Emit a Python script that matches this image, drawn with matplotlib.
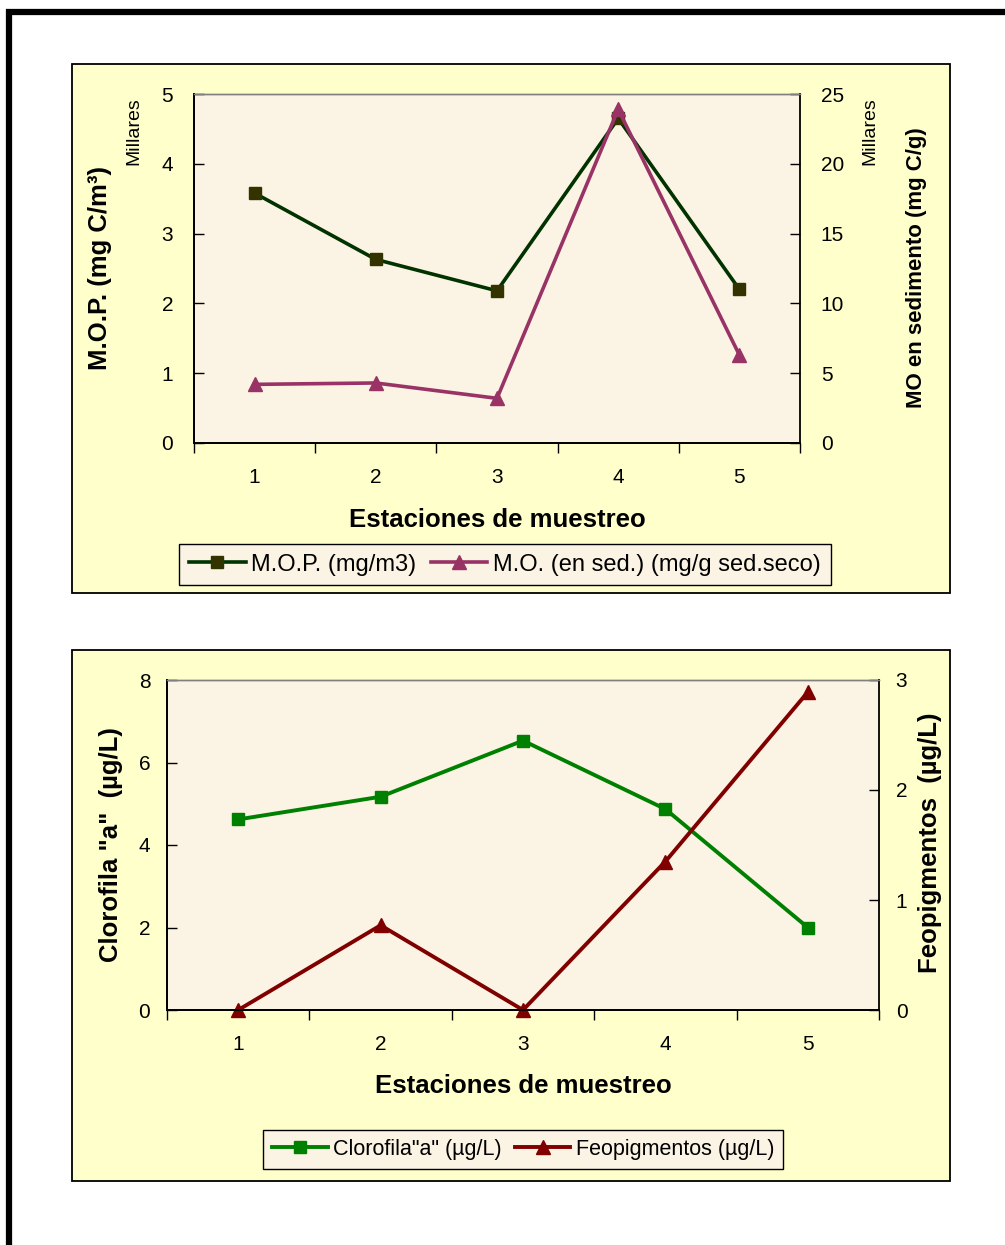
import matplotlib
matplotlib.use("Agg")
from matplotlib import pyplot as plt
from matplotlib.patches import Rectangle
from matplotlib.lines import Line2D

plt.rcParams["font.family"] = ["Liberation Sans", "DejaVu Sans"]

W, H = 1005, 1245  # output size in pixels (dpi 100)

# data
estaciones = [1, 2, 3, 4, 5]
mop = [3.58, 2.63, 2.18, 4.65, 2.20]          # M.O.P., millares mg C/m3
mo_sed = [4.2, 4.3, 3.2, 23.9, 6.3]           # M.O. en sedimento, millares mg C/g
clorofila = [4.62, 5.17, 6.53, 4.87, 2.00]    # µg/L
feopigmentos = [0.0, 0.77, 0.0, 1.35, 2.89]   # µg/L

BOX_BG = "#FFFFCC"
PLOT_BG = "#FBF3E3"
TICK_FS = 15
TITLE_FS = 18.5


def frac_rect(x0, y0, x1, y1):
    """pixel box (top-left origin) -> figure fraction [left, bottom, width, height]"""
    return [x0 / W, 1 - y1 / H, (x1 - x0) / W, (y1 - y0) / H]


def fx(x):
    return x / W


def fy(y):
    return 1 - y / H


def add_box(fig, x0, y0, x1, y1):
    l, b, w, h = frac_rect(x0, y0, x1, y1)
    fig.add_artist(Rectangle((l, b), w, h, transform=fig.transFigure, facecolor=BOX_BG,
                             edgecolor="black", linewidth=1.3, zorder=-1))


def style_axes(ax, ax2, ylim, yticks, ylim2, yticks2, ypad):
    ax.set_facecolor(PLOT_BG)
    ax2.patch.set_visible(False)
    ax.set_xlim(0.5, 5.5)
    ax.set_xticks([e - 0.5 for e in estaciones] + [estaciones[-1] + 0.5])
    ax.set_xticklabels([])
    ax.set_xticks(estaciones, minor=True)
    ax.set_xticklabels([str(e) for e in estaciones], minor=True, fontsize=TICK_FS)
    ax.tick_params(axis="x", which="major", direction="out", length=7, width=1)
    ax.tick_params(axis="x", which="minor", length=0, pad=18)

    ax.set_ylim(*ylim)
    ax.set_yticks(yticks)
    ax.tick_params(axis="y", direction="in", length=7, width=1, pad=ypad, labelsize=TICK_FS)
    ax2.set_ylim(*ylim2)
    ax2.set_yticks(yticks2)
    ax2.tick_params(axis="y", direction="in", length=7, width=1, pad=ypad, labelsize=TICK_FS)

    for a in (ax, ax2):
        a.spines["top"].set_color("#808080")
        a.spines["top"].set_linewidth(1.0)
        a.spines["left"].set_linewidth(1.3)
        a.spines["bottom"].set_linewidth(1.3)
        a.spines["right"].set_linewidth(1.3)
    ax.spines["right"].set_visible(False)


def add_legend(fig, handles, labels, cx, cy, fs, hl):
    leg = fig.legend(handles, labels, loc="center", bbox_to_anchor=(fx(cx), fy(cy)), ncol=2,
                     fancybox=False, edgecolor="black", facecolor=PLOT_BG, framealpha=1,
                     fontsize=fs, handlelength=hl, handletextpad=0.25, columnspacing=0.6,
                     borderpad=0.4)
    leg.get_frame().set_linewidth(1.0)
    return leg


fig = plt.figure(figsize=(W / 100, H / 100), dpi=100)

# page border (thick black lines left and top)
fig.add_artist(Line2D([fx(9), fx(9), 1.0], [0.0, fy(12), fy(12)], transform=fig.transFigure,
                      color="black", linewidth=4.5, solid_joinstyle="miter"))

# ---------- top chart ----------
add_box(fig, 72, 64, 950, 593)
ax = fig.add_axes(frac_rect(194, 94, 800, 443))
ax2 = ax.twinx()
style_axes(ax, ax2, (0, 5), range(0, 6), (0, 25), range(0, 26, 5), 15)

l1, = ax.plot(estaciones, mop, color="#003300", linewidth=2.6, marker="s", markersize=8,
              markerfacecolor="#333300", markeredgecolor="#333300", clip_on=False)
l2, = ax2.plot(estaciones, mo_sed, color="#993366", linewidth=2.6, marker="^", markersize=10,
               markerfacecolor="#993366", markeredgecolor="#993366", clip_on=False)

fig.text(fx(100), fy(268), "M.O.P. (mg C/m³)", rotation=90, ha="center", va="center",
         fontsize=TITLE_FS, fontweight="bold")
fig.text(fx(916), fy(268), "MO en sedimento (mg C/g)", rotation=90, ha="center", va="center",
         fontsize=16, fontweight="bold")
fig.text(fx(134), fy(131), "Millares", rotation=90, ha="center", va="center", fontsize=14)
fig.text(fx(870), fy(131), "Millares", rotation=90, ha="center", va="center", fontsize=14)
fig.text(fx(497), fy(520), "Estaciones de muestreo", ha="center", va="center",
         fontsize=TITLE_FS, fontweight="bold")

add_legend(fig, [l1, l2], ["M.O.P. (mg/m3)", "M.O. (en sed.) (mg/g sed.seco)"],
           505, 564.5, 17, 2.4)

# ---------- bottom chart ----------
add_box(fig, 72, 650, 950, 1181)
bx = fig.add_axes(frac_rect(167, 680, 879, 1010))
bx2 = bx.twinx()
style_axes(bx, bx2, (0, 8), range(0, 9, 2), (0, 3), range(0, 4), 12)

l3, = bx.plot(estaciones, clorofila, color="#008000", linewidth=2.8, marker="s", markersize=8,
              markerfacecolor="#008000", markeredgecolor="#008000", clip_on=False)
l4, = bx2.plot(estaciones, feopigmentos, color="#800000", linewidth=2.8, marker="^", markersize=10,
               markerfacecolor="#800000", markeredgecolor="#800000", clip_on=False)

fig.text(fx(111), fy(845), 'Clorofila "a"  (µg/L)', rotation=90, ha="center", va="center",
         fontsize=TITLE_FS, fontweight="bold")
fig.text(fx(930), fy(843), "Feopigmentos  (µg/L)", rotation=90, ha="center", va="center",
         fontsize=TITLE_FS, fontweight="bold")
fig.text(fx(523), fy(1086), "Estaciones de muestreo", ha="center", va="center",
         fontsize=TITLE_FS, fontweight="bold")

add_legend(fig, [l3, l4], ['Clorofila"a" (µg/L)', "Feopigmentos (µg/L)"],
           523, 1149.5, 15.5, 2.6)

fig.savefig("out.png", dpi=100)
plt.close(fig)
